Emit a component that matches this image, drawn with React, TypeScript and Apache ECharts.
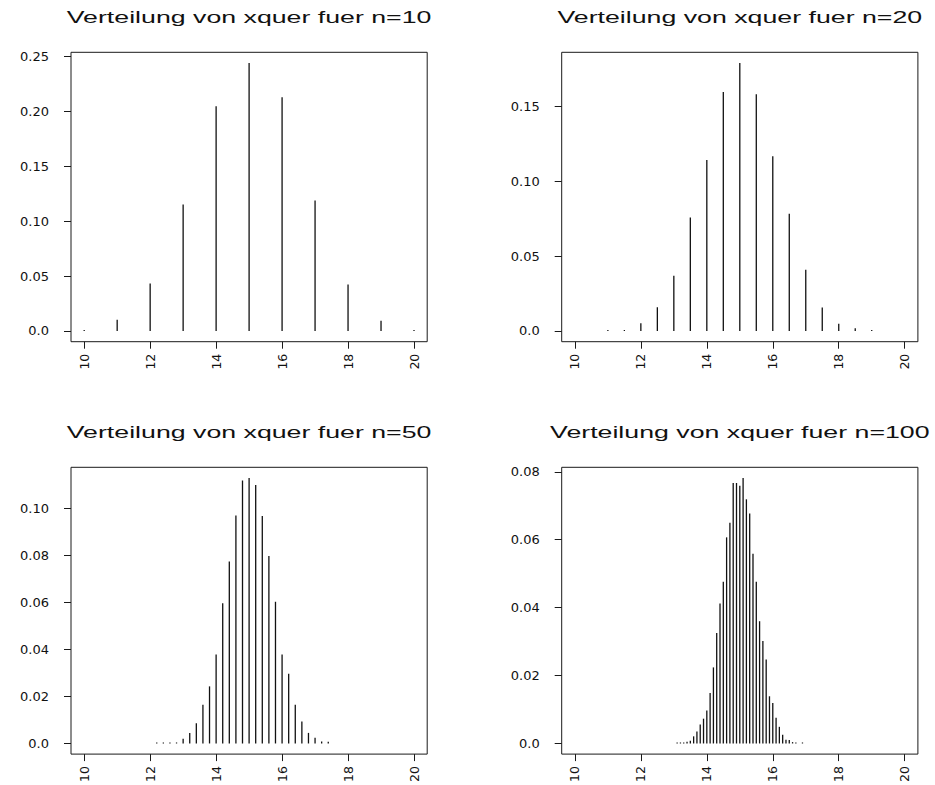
import React, { useEffect, useRef } from "react";
import * as echarts from "echarts";

// ---- data ----
const titles = [
  "Verteilung von xquer fuer n=10",
  "Verteilung von xquer fuer n=20",
  "Verteilung von xquer fuer n=50",
  "Verteilung von xquer fuer n=100",
];

const xs1 = [10, 11, 12, 13, 14, 15, 16, 17, 18, 19, 20];
const ys1 = [0.001, 0.0103, 0.0433, 0.1152, 0.2045, 0.2439, 0.2127, 0.1188, 0.0424, 0.0094, 0.001];

const xs2 = [11, 11.5, 12, 12.5, 13, 13.5, 14, 14.5, 15, 15.5, 16, 16.5, 17, 17.5, 18, 18.5, 19];
const ys2 = [0.0004, 0.0004, 0.0051, 0.0158, 0.0369, 0.0758, 0.1142, 0.1596, 0.1789, 0.158, 0.1167, 0.0782, 0.0409, 0.0156, 0.0049, 0.0018, 0.0003];

const xs3 = [12.2, 12.4, 12.6, 12.8, 13.0, 13.2, 13.4, 13.6, 13.8, 14.0, 14.2, 14.4, 14.6, 14.8, 15.0, 15.2, 15.4, 15.6, 15.8, 16.0, 16.2, 16.4, 16.6, 16.8, 17.0, 17.2, 17.4];
const ys3 = [0.0001, 0.0001, 0.0001, 0.0003, 0.002, 0.0045, 0.0086, 0.0165, 0.0243, 0.0379, 0.0597, 0.0774, 0.097, 0.1119, 0.113, 0.11, 0.0968, 0.0798, 0.0603, 0.0379, 0.0297, 0.0165, 0.0093, 0.0045, 0.0024, 0.0008, 0.0007];

const xs4 = [13.1, 13.2, 13.3, 13.4, 13.5, 13.6, 13.7, 13.8, 13.9, 14.0, 14.1, 14.2, 14.3, 14.4, 14.5, 14.6, 14.7, 14.8, 14.9, 15.0, 15.1, 15.2, 15.3, 15.4, 15.5, 15.6, 15.7, 15.8, 15.9, 16.0, 16.1, 16.2, 16.3, 16.4, 16.5, 16.6, 16.7, 16.9];
const ys4 = [0.0002, 0.0002, 0.0002, 0.0005, 0.0008, 0.0021, 0.0035, 0.0056, 0.0073, 0.0097, 0.0149, 0.0224, 0.0325, 0.0412, 0.0476, 0.0607, 0.065, 0.0767, 0.0767, 0.0759, 0.0782, 0.0719, 0.0677, 0.0559, 0.0476, 0.036, 0.0302, 0.0247, 0.0139, 0.0119, 0.0076, 0.0049, 0.0026, 0.0011, 0.001, 0.0004, 0.0002, 0.0002];

const xTicks = [10, 12, 14, 16, 18, 20];
const yTicks1 = [0, 0.05, 0.1, 0.15, 0.2, 0.25];
const yTicks2 = [0, 0.05, 0.1, 0.15];
const yTicks3 = [0, 0.02, 0.04, 0.06, 0.08, 0.1];
const yTicks4 = [0, 0.02, 0.04, 0.06, 0.08];

const xMin = 10;
const xMax = 20;

// ---- layout ----
const panels = [
  { xs: xs1, ys: ys1, yTicks: yTicks1, left: 71, top: 52.3 },
  { xs: xs2, ys: ys2, yTicks: yTicks2, left: 561.7, top: 52.3 },
  { xs: xs3, ys: ys3, yTicks: yTicks3, left: 71, top: 467.3 },
  { xs: xs4, ys: ys4, yTicks: yTicks4, left: 561.7, top: 467.3 },
];
const PW = 356.2;
const PH = 289.4;
const INK = "#1a1a1a";
const LABEL_FONT = "DejaVu Sans";

export default function App() {
  const ref = useRef<HTMLDivElement>(null);

  useEffect(() => {
    if (!ref.current) return;
    const chart = echarts.init(ref.current, null, { renderer: "svg" });
    const xPad = 0.04 * (xMax - xMin);

    const grid = panels.map((p) => ({
      left: p.left,
      top: p.top,
      width: PW,
      height: PH,
      show: true,
      borderColor: INK,
      borderWidth: 1,
      backgroundColor: "transparent",
      containLabel: false,
    }));

    const xAxis = panels.map((p, i) => ({
      type: "value",
      gridIndex: i,
      position: "bottom",
      min: xMin - xPad,
      max: xMax + xPad,
      axisLine: { show: false, onZero: false },
      splitLine: { show: false },
      axisTick: {
        show: true,
        customValues: xTicks,
        length: 7,
        lineStyle: { color: INK, width: 1 },
      },
      axisLabel: {
        customValues: xTicks,
        rotate: 90,
        margin: 12,
        fontSize: 12.5,
        fontFamily: LABEL_FONT,
        color: "#111",
        formatter: (v: number) => String(v),
      },
    }));

    const yAxis = panels.map((p, i) => {
      const yMax = Math.max(...p.ys);
      const pad = 0.04 * yMax;
      return {
        type: "value",
        gridIndex: i,
        position: "left",
        min: -pad,
        max: yMax + pad,
        axisLine: { show: false, onZero: false },
        splitLine: { show: false },
        axisTick: {
          show: true,
          customValues: p.yTicks,
          length: 7,
          lineStyle: { color: INK, width: 1 },
        },
        axisLabel: {
          customValues: p.yTicks,
          margin: 22,
          fontSize: 13,
          fontFamily: LABEL_FONT,
          color: "#111",
          formatter: (v: number) => (Math.abs(v) < 1e-12 ? "0.0" : v.toFixed(2)),
        },
      };
    });

    const series = panels.map((p, i) => ({
      type: "bar",
      xAxisIndex: i,
      yAxisIndex: i,
      data: p.xs.map((x, j) => [x, p.ys[j]]),
      barWidth: 1.3,
      barMinHeight: 1,
      itemStyle: { color: "#111" },
      silent: true,
    }));

    const graphic = panels.map((p, i) => ({
      type: "text",
      x: p.left + PW / 2,
      y: p.top - 34.8,
      scaleX: 1.62,
      scaleY: 1,
      silent: true,
      style: {
        text: titles[i],
        fontSize: 16.5,
        fontWeight: "normal",
        fontFamily: "Liberation Sans, Arial, sans-serif",
        fill: "#111",
        align: "center",
        verticalAlign: "middle",
      },
    }));

    chart.setOption({
      animation: false,
      backgroundColor: "#fff",
      grid,
      xAxis,
      yAxis,
      series,
      graphic,
    });

    return () => chart.dispose();
  }, []);

  return (
    <div
      ref={ref}
      style={{ position: "fixed", left: 0, top: 0, width: 935, height: 785 }}
    />
  );
}
